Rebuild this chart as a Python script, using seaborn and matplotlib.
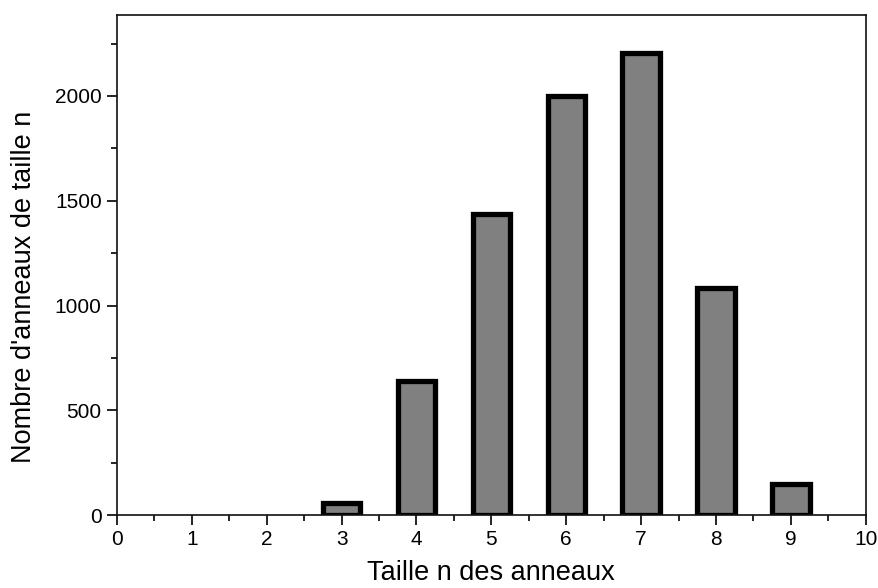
import pandas as pd
import matplotlib.pyplot as plt
import seaborn as sns
from matplotlib.ticker import MultipleLocator

# Ring size distribution
tailles = [3, 4, 5, 6, 7, 8, 9]
nombres = [58, 640, 1435, 2000, 2205, 1085, 148]

df = pd.DataFrame({"taille": tailles, "nombre": nombres})

sns.set_style("ticks")
plt.rcParams['font.family'] = ['Liberation Sans', 'DejaVu Sans']
plt.rcParams['text.color'] = 'black'
plt.rcParams['axes.labelcolor'] = 'black'

fig = plt.figure(figsize=(8.79, 5.88), dpi=100)
ax = fig.add_axes([0.133, 0.124, 0.852, 0.850])

sns.barplot(data=df, x="taille", y="nombre", native_scale=True, width=0.5,
            color="#808080", saturation=1, edgecolor="black", linewidth=3.8, ax=ax)

ax.set_xlim(0, 10)
ax.set_ylim(0, 2385)
ax.xaxis.set_major_locator(MultipleLocator(1))
ax.xaxis.set_minor_locator(MultipleLocator(0.5))
ax.yaxis.set_major_locator(MultipleLocator(500))
ax.yaxis.set_minor_locator(MultipleLocator(250))
ax.tick_params(which="major", direction="out", length=7, width=1.2, labelsize=15,
               colors="black", pad=4)
ax.tick_params(which="minor", direction="out", length=4, width=1.2, colors="black")

for s in ax.spines.values():
    s.set_visible(True)
    s.set_linewidth(1.2)
    s.set_color("#111111")

ax.set_xlabel("Taille n des anneaux", fontsize=19.5, labelpad=8, color="black")
ax.set_ylabel("Nombre d'anneaux de taille n", fontsize=19.5, labelpad=13, color="black")
ax.yaxis.label.set_y(0.456)

fig.savefig("out.png", dpi=100)
